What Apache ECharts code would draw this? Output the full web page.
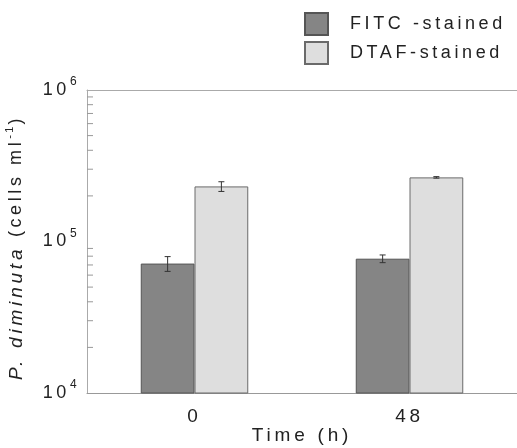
<!DOCTYPE html>
<html>
<head>
<meta charset="utf-8">
<script src="https://cdn.jsdelivr.net/npm/echarts@6/dist/echarts.min.js"></script>
<style>
html,body{margin:0;padding:0;background:#fff;}
#chart{width:517px;height:448px;}
</style>
</head>
<body>
<div id="chart"></div>
<script>
// ---- data ----
const categories = ['0', '48'];
const seriesNames = ['FITC -stained', 'DTAF-stained'];
const fitcValues = [71500, 77000];
const fitcErrors = [8000, 4500];
const dtafValues = [231000, 265000];
const dtafErrors = [17000, 3000];
const yMin = 1e4, yMax = 1e6;
const yExponents = { 10000: '4', 100000: '5', 1000000: '6' };
const minorTickValues = [2e4, 3e4, 4e4, 5e4, 6e4, 7e4, 8e4, 9e4, 2e5, 3e5, 4e5, 5e5, 6e5, 7e5, 8e5, 9e5];

// letter spacing to mimic the tracked lettering of the original figure
(function () {
  const desc = Object.getOwnPropertyDescriptor(CanvasRenderingContext2D.prototype, 'font');
  if (!desc || !('letterSpacing' in CanvasRenderingContext2D.prototype)) return;
  Object.defineProperty(CanvasRenderingContext2D.prototype, 'font', {
    configurable: true,
    get() { return desc.get.call(this); },
    set(v) {
      desc.set.call(this, v);
      const m = /([\d.]+)px/.exec(v);
      const size = m ? parseFloat(m[1]) : 12;
      this.letterSpacing = (size * 0.2).toFixed(2) + 'px';
    }
  });
})();

const FONT = 'Liberation Sans, Arial, Helvetica, sans-serif';
const BAR_FRAC = 0.25;

function errorSeries(values, errors, side) {
  return {
    type: 'custom',
    silent: true,
    z: 5,
    data: values.map((v, i) => [i, v, errors[i]]),
    renderItem: function (params, api) {
      const i = api.value(0), v = api.value(1), e = api.value(2);
      const band = api.size([1, 0])[0];
      const c = api.coord([i, v]);
      const x = c[0] + side * band * BAR_FRAC / 2;
      const yTop = api.coord([i, v + e])[1];
      const yBot = api.coord([i, v - e])[1];
      const cap = 3;
      const st = { stroke: '#333', lineWidth: 1 };
      return {
        type: 'group',
        children: [
          { type: 'line', shape: { x1: x, y1: yTop, x2: x, y2: yBot }, style: st },
          { type: 'line', shape: { x1: x - cap, y1: yTop, x2: x + cap, y2: yTop }, style: st },
          { type: 'line', shape: { x1: x - cap, y1: yBot, x2: x + cap, y2: yBot }, style: st }
        ]
      };
    }
  };
}

const chart = echarts.init(document.getElementById('chart'), null, { renderer: 'canvas' });
chart.setOption({
  backgroundColor: '#ffffff',
  animation: false,
  textStyle: { fontFamily: FONT },
  legend: {
    data: seriesNames,
    orient: 'vertical',
    left: 304,
    top: 12,
    itemWidth: 23,
    itemHeight: 22,
    itemGap: 5,
    padding: 0,
    icon: 'rect',
    textStyle: { fontFamily: FONT, fontSize: 18, color: '#222', padding: [0, 0, 0, 17] }
  },
  grid: { left: 87, right: 0, top: 90, bottom: 55, containLabel: false, outerBoundsMode: 'none' },
  xAxis: [
    {
      type: 'category',
      data: categories,
      position: 'bottom',
      name: 'Time (h)',
      nameLocation: 'middle',
      nameMoveOverlap: false,
      nameGap: 43,
      nameTextStyle: { fontFamily: FONT, fontSize: 19, color: '#222', verticalAlign: 'middle' },
      axisLine: { lineStyle: { color: '#999', width: 1 } },
      axisTick: { inside: true, length: 8, lineStyle: { color: '#888' } },
      axisLabel: { fontFamily: FONT, fontSize: 19, color: '#222', margin: 12 },
      splitLine: { show: false }
    },
    {
      type: 'category',
      data: categories,
      position: 'top',
      axisLine: { lineStyle: { color: '#aaa', width: 1 } },
      axisTick: { show: false },
      axisLabel: { show: false },
      splitLine: { show: false }
    }
  ],
  yAxis: {
    type: 'log',
    logBase: 10,
    min: yMin,
    max: yMax,
    name: '{i|P. diminuta} (cells ml{s|-1})',
    nameLocation: 'middle',
    nameGap: 58,
    nameTextStyle: {
      fontFamily: FONT, fontSize: 18, color: '#222',
      padding: [0, 12, 0, 0],
      rich: {
        i: { fontFamily: FONT, fontSize: 19, fontStyle: 'italic', color: '#222' },
        s: { fontFamily: FONT, fontSize: 11, color: '#222', padding: [0, 0, 12, 0] }
      }
    },
    axisLine: { show: true, lineStyle: { color: '#aaa', width: 1 } },
    axisTick: { inside: true, length: 10, lineStyle: { color: '#999' } },
    axisLabel: {
      margin: 8,
      formatter: function (v) { return '{b|10}{s|' + yExponents[Math.round(v)] + '}'; },
      rich: {
        b: { fontFamily: FONT, fontSize: 18, color: '#222' },
        s: { fontFamily: FONT, fontSize: 12, color: '#222', padding: [0, 0, 16, 0] }
      }
    },
    splitLine: { show: false }
  },
  series: [
    {
      name: seriesNames[0],
      type: 'bar',
      data: fitcValues,
      barWidth: (BAR_FRAC * 100) + '%',
      barGap: '0%',
      itemStyle: { color: '#858585', borderColor: '#555', borderWidth: 1 }
    },
    {
      name: seriesNames[1],
      type: 'bar',
      data: dtafValues,
      barWidth: (BAR_FRAC * 100) + '%',
      barGap: '0%',
      itemStyle: { color: '#dedede', borderColor: '#6a6a6a', borderWidth: 1 }
    },
    errorSeries(fitcValues, fitcErrors, -1),
    errorSeries(dtafValues, dtafErrors, 1),
    {
      type: 'custom',
      silent: true,
      z: 6,
      data: minorTickValues.map(v => [0, v]),
      renderItem: function (params, api) {
        const y = api.coord([0, api.value(1)])[1];
        const x0 = params.coordSys.x;
        return { type: 'line', shape: { x1: x0, y1: y, x2: x0 + 6, y2: y }, style: { stroke: '#999', lineWidth: 1 } };
      }
    }
  ]
});
</script>
</body>
</html>
